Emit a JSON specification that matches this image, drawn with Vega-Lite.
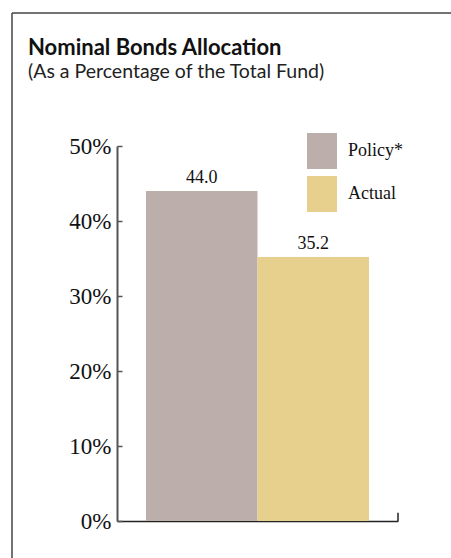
{
  "$schema": "https://vega.github.io/schema/vega-lite/v6.json",
  "width": 281,
  "height": 375,
  "autosize": {"type": "none"},
  "padding": {"left": 117, "top": 146, "right": 53, "bottom": 37},
  "background": "white",
  "config": {"view": {"stroke": null}, "font": "Liberation Serif"},
  "title": {
    "text": "Nominal Bonds Allocation",
    "subtitle": "(As a Percentage of the Total Fund)",
    "anchor": "start",
    "frame": "group",
    "dx": -89,
    "font": "Lato",
    "fontSize": 22,
    "fontWeight": "bold",
    "color": "#111",
    "subtitleFont": "Lato",
    "subtitleFontSize": 19.5,
    "subtitleColor": "#222",
    "subtitlePadding": 3,
    "offset": -70
  },
  "resolve": {"scale": {"x": "independent"}},
  "layer": [
    {
      "data": {"values": [
        {"category": "Policy*", "value": 44.0},
        {"category": "Actual", "value": 35.2}
      ]},
      "encoding": {
        "x": {
          "field": "category", "type": "nominal", "sort": null,
          "scale": {"paddingInner": 0, "paddingOuter": 0.26},
          "axis": {"title": null, "labels": false, "ticks": false, "domainColor": "#222", "domainWidth": 1.5}
        },
        "y": {
          "field": "value", "type": "quantitative",
          "scale": {"domain": [0, 50], "nice": false},
          "axis": {
            "title": null, "values": [0, 10, 20, 30, 40, 50],
            "labelExpr": "datum.value + '%'",
            "labelFont": "Liberation Serif", "labelFontSize": 23, "labelColor": "#111",
            "tickSize": -5, "tickColor": "#555", "tickWidth": 1.5,
            "domainColor": "#555", "domainWidth": 2,
            "labelPadding": 11, "grid": false
          }
        }
      },
      "layer": [
        {
          "mark": {"type": "bar"},
          "encoding": {
            "color": {
              "field": "category", "type": "nominal",
              "scale": {"domain": ["Policy*", "Actual"], "range": ["#bcaeaa", "#e7cf8e"]},
              "legend": {
                "orient": "none", "legendX": 187, "legendY": -13, "title": null,
                "symbolType": "M-0.8333,-1H0.8333V1H-0.8333Z",
                "symbolSize": 1296, "symbolStrokeWidth": 0, "symbolOpacity": 1,
                "labelFont": "Liberation Serif", "labelFontSize": 18, "labelColor": "#111",
                "labelOffset": 8, "rowPadding": 7, "padding": 0
              }
            }
          }
        },
        {
          "mark": {"type": "text", "baseline": "bottom", "dy": -4, "font": "Liberation Serif", "fontSize": 18, "color": "#111"},
          "encoding": {"text": {"field": "value", "type": "quantitative", "format": ".1f"}}
        }
      ]
    },
    {
      "data": {"values": [{}]},
      "layer": [
        {
          "mark": {"type": "rule", "color": "#222", "strokeWidth": 1.5},
          "encoding": {
            "x": {"datum": 1, "type": "quantitative", "scale": {"domain": [0, 1], "nice": false, "zero": false}, "axis": null},
            "y": {"datum": 0, "type": "quantitative"},
            "y2": {"datum": 1.1}
          }
        },
        {
          "mark": {"type": "rule", "color": "#444", "strokeWidth": 1.5},
          "encoding": {
            "x": {"datum": -0.3737, "type": "quantitative"},
            "y": {"datum": -5, "type": "quantitative"},
            "y2": {"datum": 67.73}
          }
        },
        {
          "mark": {"type": "rule", "color": "#444", "strokeWidth": 1.5},
          "encoding": {
            "x": {"datum": -0.3737, "type": "quantitative"},
            "x2": {"datum": 1.2},
            "y": {"datum": 67.73, "type": "quantitative"}
          }
        }
      ]
    }
  ]
}
